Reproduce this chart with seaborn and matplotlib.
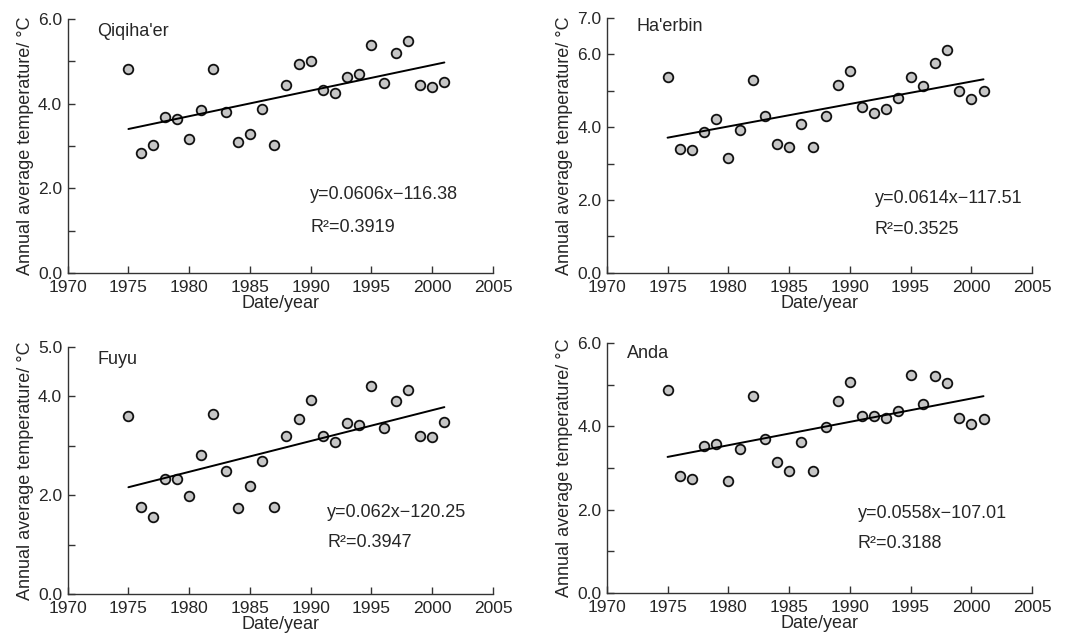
import matplotlib
matplotlib.use('Agg')

import seaborn as sns
import matplotlib.pyplot as plt
import pandas
from matplotlib.ticker import FixedLocator, FormatStrFormatter

years = [1975, 1976, 1977, 1978, 1979, 1980, 1981, 1982, 1983, 1984, 1985, 1986, 1987, 1988,
         1989, 1990, 1991, 1992, 1993, 1994, 1995, 1996, 1997, 1998, 1999, 2000, 2001]

qiqihaer = [4.81, 2.83, 3.02, 3.69, 3.65, 3.17, 3.85, 4.81, 3.80, 3.09, 3.29, 3.88, 3.02, 4.44,
            4.93, 5.00, 4.33, 4.26, 4.63, 4.71, 5.38, 4.48, 5.19, 5.49, 4.44, 4.39, 4.52]
haerbin = [5.39, 3.40, 3.36, 3.86, 4.23, 3.14, 3.91, 5.30, 4.31, 3.54, 3.46, 4.08, 3.46, 4.31,
           5.17, 5.53, 4.54, 4.40, 4.50, 4.81, 5.39, 5.13, 5.76, 6.12, 4.99, 4.76, 4.99]
fuyu = [3.61, 1.77, 1.57, 2.34, 2.34, 1.99, 2.82, 3.65, 2.50, 1.74, 2.19, 2.69, 1.77, 3.20,
        3.55, 3.93, 3.20, 3.07, 3.46, 3.43, 4.22, 3.36, 3.91, 4.13, 3.20, 3.17, 3.49]
anda = [4.88, 2.82, 2.74, 3.54, 3.57, 2.70, 3.45, 4.72, 3.70, 3.14, 2.94, 3.62, 2.94, 3.98,
        4.60, 5.07, 4.25, 4.25, 4.20, 4.37, 5.23, 4.53, 5.20, 5.04, 4.21, 4.06, 4.17]

stations = ["Qiqiha'er", "Ha'erbin", "Fuyu", "Anda"]
series = [qiqihaer, haerbin, fuyu, anda]
equations = ["y=0.0606x\u2212116.38", "y=0.0614x\u2212117.51",
             "y=0.062x\u2212120.25", "y=0.0558x\u2212107.01"]
r_squared = ["R\u00b2=0.3919", "R\u00b2=0.3525", "R\u00b2=0.3947", "R\u00b2=0.3188"]
y_major = [[0, 2, 4, 6], [0, 2, 4, 6, 7], [0, 2, 4, 5], [0, 2, 4, 6]]
y_minor = [[1, 3, 5], [1, 3, 5], [1, 3], [1, 3, 5]]
x_ticks = [1970, 1975, 1980, 1985, 1990, 1995, 2000, 2005]

# axes placement [left, bottom, width, height] in figure fraction
AXES_POS = [[0.063, 0.573, 0.396, 0.397],
            [0.565, 0.573, 0.396, 0.399],
            [0.063, 0.070, 0.396, 0.387],
            [0.565, 0.072, 0.396, 0.391]]
NAME_POS = [(0.07, 0.95), (0.07, 0.965), (0.07, 0.95), (0.047, 0.96)]
EQ_POS = [(0.57, 0.31, 0.18), (0.63, 0.29, 0.17), (0.61, 0.33, 0.21), (0.59, 0.32, 0.20)]

sns.set_theme(style="ticks")
plt.rcParams['font.family'] = ['Liberation Sans', 'DejaVu Sans']
plt.rcParams['axes.edgecolor'] = '#333333'
plt.rcParams['axes.linewidth'] = 1.0

FS = 13
TICK_FS = 12.5

fig = plt.figure(figsize=(10.74, 6.39), dpi=100)

for i, name in enumerate(stations):
    ax = fig.add_axes(AXES_POS[i])
    df = pandas.DataFrame({'year': years, 'temp': series[i]})
    sns.regplot(data=df, x='year', y='temp', ax=ax, ci=None,
                scatter_kws={'s': 48, 'color': '#c6c6c6', 'edgecolor': '#111111',
                             'linewidths': 1.3, 'alpha': 1},
                line_kws={'color': 'black', 'linewidth': 1.4})

    ax.set_xlim(1970, 2005)
    ax.set_ylim(0, y_major[i][-1])
    ax.set_xticks(x_ticks)
    ax.yaxis.set_major_locator(FixedLocator(y_major[i]))
    ax.yaxis.set_minor_locator(FixedLocator(y_minor[i]))
    ax.yaxis.set_major_formatter(FormatStrFormatter('%.1f'))
    ax.tick_params(axis='both', which='both', direction='in', length=5, width=1,
                   labelsize=TICK_FS, color='#333333')
    ax.tick_params(axis='x', pad=5)
    ax.tick_params(axis='y', pad=4)
    sns.despine(ax=ax)

    ax.set_xlabel('Date/year', fontsize=FS, labelpad=0)
    ax.set_ylabel('Annual average temperature/ \u00b0C', fontsize=FS, labelpad=3)

    ax.text(NAME_POS[i][0], NAME_POS[i][1], name, transform=ax.transAxes,
            ha='left', va='center', fontsize=FS)
    ax.text(EQ_POS[i][0], EQ_POS[i][1], equations[i], transform=ax.transAxes,
            ha='left', va='center', fontsize=FS)
    ax.text(EQ_POS[i][0], EQ_POS[i][2], r_squared[i], transform=ax.transAxes,
            ha='left', va='center', fontsize=FS)

plt.savefig('out.png', dpi=100)
plt.close('all')
